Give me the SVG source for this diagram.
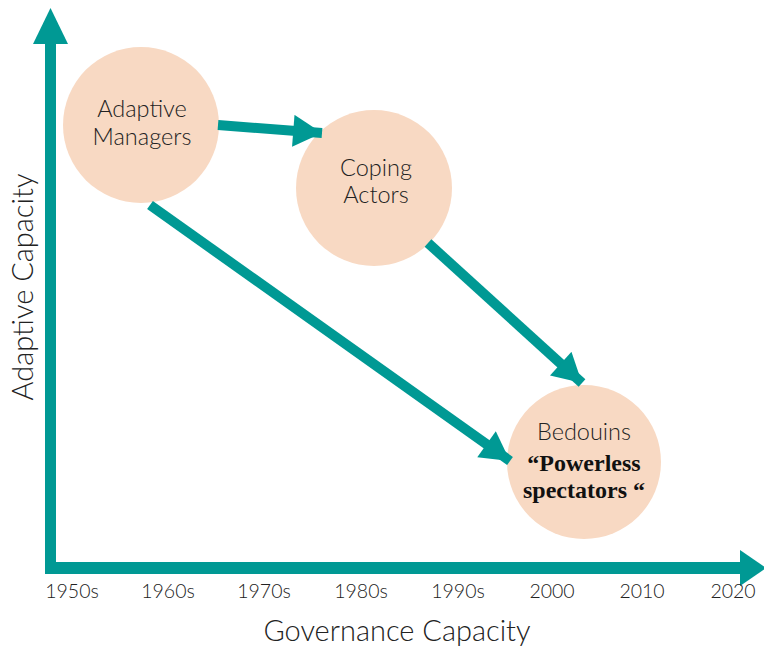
<svg xmlns="http://www.w3.org/2000/svg" width="764" height="647" viewBox="0 0 764 647">
<style>
.node circle{fill:#F8D9C3}
.lbl{font-family:Lato,"Open Sans","Liberation Sans",sans-serif;font-weight:300;font-size:23.5px;fill:#222;text-anchor:middle}
.ser{font-family:"Liberation Serif",serif;font-size:24px;font-weight:bold;fill:#111;text-anchor:middle}
.tick{font-family:Lato,"Liberation Sans",sans-serif;font-weight:300;font-size:19.5px;fill:#222;text-anchor:middle}
.axl{font-family:Lato,"Liberation Sans",sans-serif;font-weight:300;font-size:29px;fill:#222;text-anchor:middle}
.conn line{stroke:#009994;stroke-width:10}
</style>
<defs>
<marker id="ah" markerUnits="userSpaceOnUse" markerWidth="30" markerHeight="32" viewBox="0 0 27 30" refX="27" refY="15" orient="auto">
<path d="M0,0 L27,15 L0,30 Z" fill="#009994"/>
</marker>
</defs>
<rect width="764" height="647" fill="#fff"/>
<g id="axes">
<rect x="45" y="40" width="11" height="534" fill="#009994"/>
<path d="M50.5,8 L68,44 L33,44 Z" fill="#009994"/>
<rect x="45" y="562" width="700" height="12" fill="#009994"/>
<path d="M766,568 L740,550 L740,586 Z" fill="#009994"/>
</g>
<g id="node-adaptive" class="node">
<circle cx="141" cy="125" r="78"/>
<text class="lbl" x="142" y="117">Adaptive</text>
<text class="lbl" x="142" y="145">Managers</text>
</g>
<g id="node-coping" class="node">
<circle cx="374" cy="188" r="78"/>
<text class="lbl" x="376" y="176">Coping</text>
<text class="lbl" x="376" y="203">Actors</text>
</g>
<g id="node-bedouins" class="node">
<circle cx="584" cy="462" r="77"/>
<text class="lbl" x="584" y="440">Bedouins</text>
<text class="ser" x="584" y="471">“Powerless</text>
<text class="ser" x="584" y="498">spectators “</text>
</g>
<g id="connectors" class="conn">
<line x1="218" y1="125" x2="322" y2="133" marker-end="url(#ah)"/>
<line x1="428" y1="243" x2="582" y2="383" marker-end="url(#ah)"/>
<line x1="150" y1="205" x2="510" y2="461" marker-end="url(#ah)"/>
</g>
<g id="ticks">
<text class="tick" x="72" y="598">1950s</text>
<text class="tick" x="168" y="598">1960s</text>
<text class="tick" x="264" y="598">1970s</text>
<text class="tick" x="361" y="598">1980s</text>
<text class="tick" x="458" y="598">1990s</text>
<text class="tick" x="552" y="598">2000</text>
<text class="tick" x="642" y="598">2010</text>
<text class="tick" x="733" y="598">2020</text>
</g>
<text class="axl" x="397" y="641">Governance Capacity</text>
<text class="axl" transform="translate(33,287) rotate(-90)">Adaptive Capacity</text>
</svg>
